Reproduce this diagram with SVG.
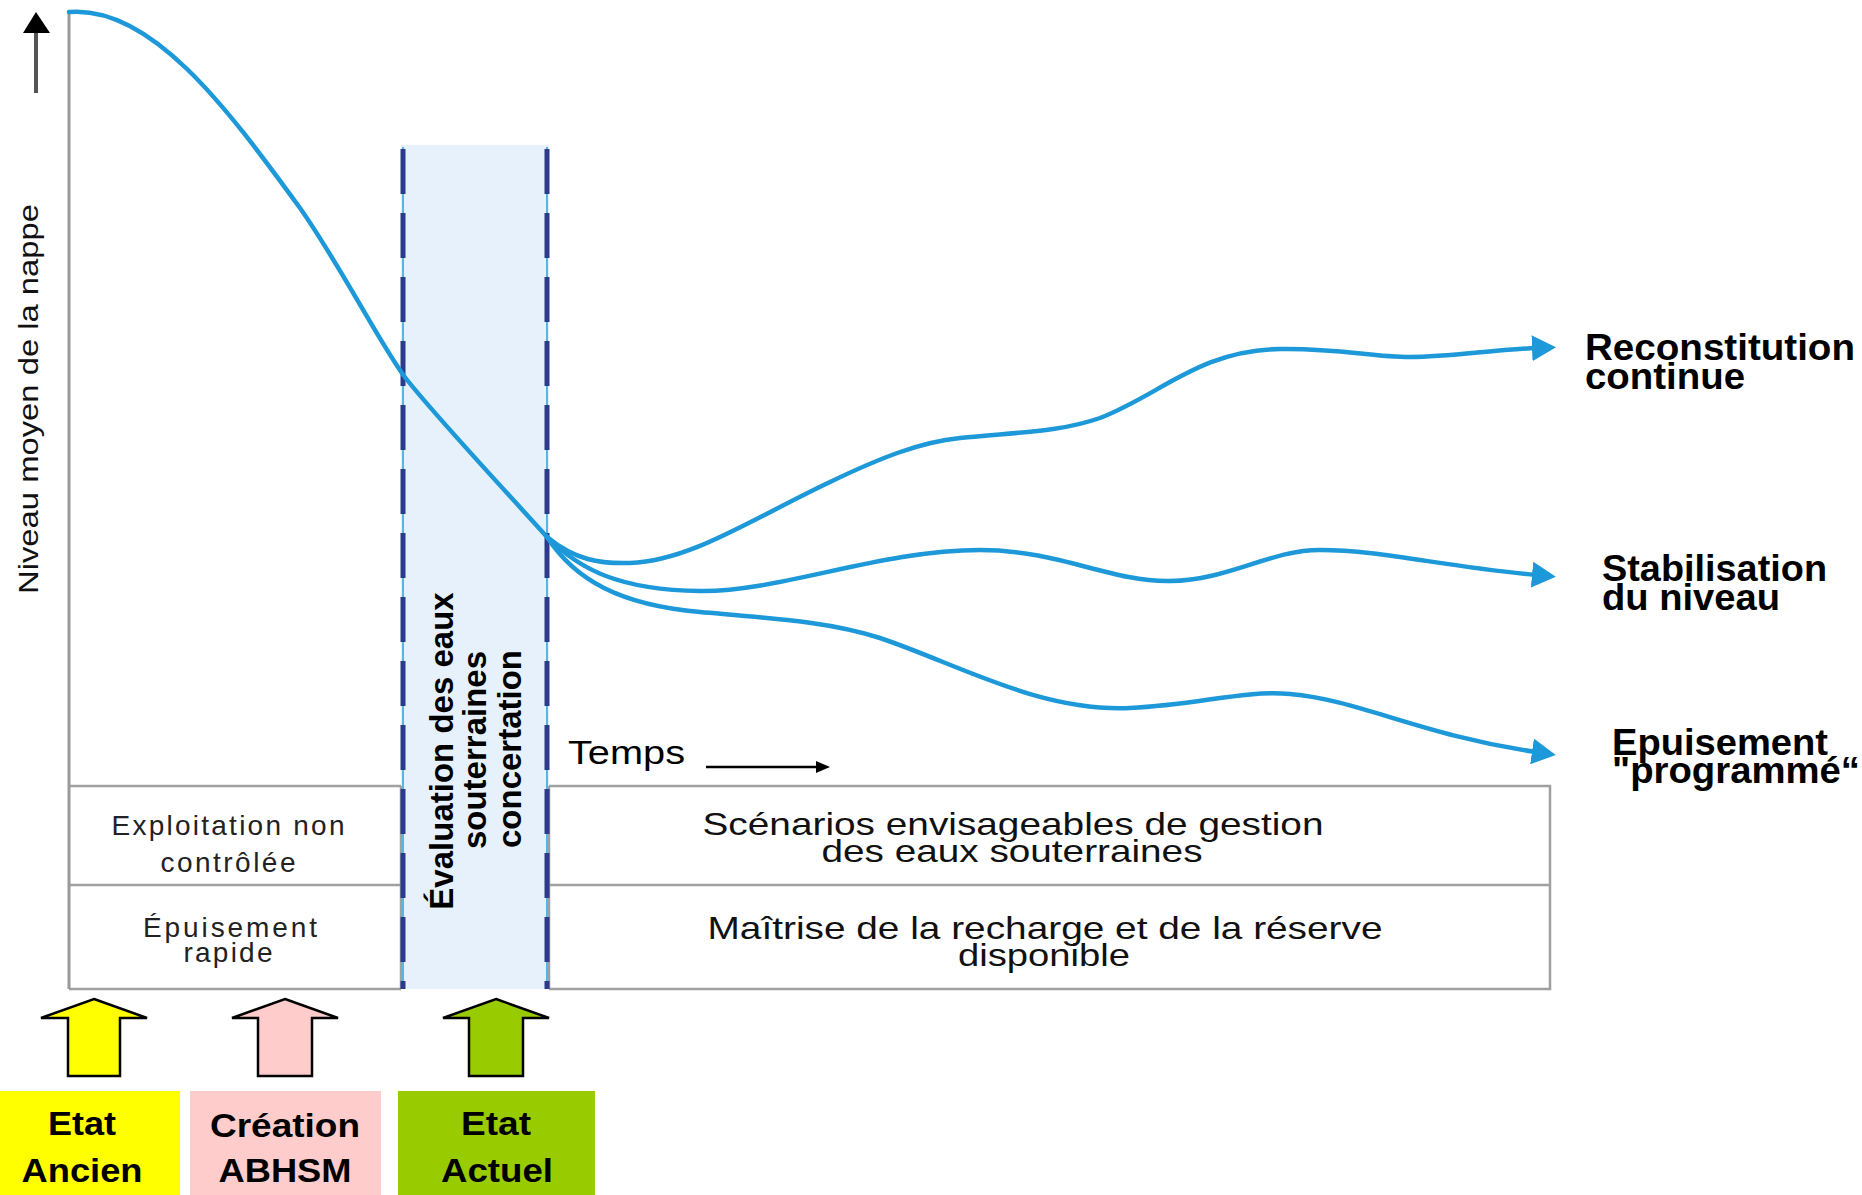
<svg xmlns="http://www.w3.org/2000/svg" width="1862" height="1195" viewBox="0 0 1862 1195">
<style>
.curve{fill:none;stroke:#1d98d8;stroke-width:4.5;stroke-linecap:round}
.grid{fill:none;stroke:#a0a0a0;stroke-width:2.5}
.tbl{font-family:"Liberation Sans",Arial,sans-serif;font-size:28px;fill:#222;text-anchor:middle}
.tbr{font-family:"Liberation Sans",Arial,sans-serif;font-size:32px;fill:#111;text-anchor:middle}
.lab{font-family:"Liberation Sans",Arial,sans-serif;font-size:37px;font-weight:bold;fill:#000}
.vt{font-family:"Liberation Sans",Arial,sans-serif;font-size:33px;font-weight:bold;fill:#000;text-anchor:middle}
.box{font-family:"Liberation Sans",Arial,sans-serif;font-size:34px;font-weight:bold;fill:#000;text-anchor:middle}
.barr{stroke:#000;stroke-width:2.5;stroke-linejoin:miter}
.dash{fill:none;stroke:#2d3a8c;stroke-width:5;stroke-dasharray:45 19}
.gap{fill:none;stroke:#5ab4e0;stroke-width:2}
</style>
<defs>
<marker id="ab" markerUnits="userSpaceOnUse" markerWidth="24" markerHeight="26" refX="4" refY="13" orient="auto">
<path d="M0,0 L24,13 L0,26 z" fill="#1d98d8"/>
</marker>
<marker id="ak" markerUnits="userSpaceOnUse" markerWidth="14" markerHeight="12" refX="2" refY="6" orient="auto">
<path d="M0,0 L14,6 L0,12 z" fill="#000"/>
</marker>
</defs>
<rect width="1862" height="1195" fill="#fff"/>

<g id="band">
<rect x="401" y="145" width="148" height="844" fill="#e7f1fb"/>
</g>

<g id="table">
<path class="grid" d="M69,786 H401 M69,885 H401 M69,989 H401 M549,786 H1550 V989 H549 M549,885 H1550 M401,786 V989 M549,786 V989"/>
<text class="tbl" x="228" y="835" textLength="233">Exploitation non</text>
<text class="tbl" x="228" y="872" textLength="135">contrôlée</text>
<text class="tbl" x="230" y="937" textLength="174">Épuisement</text>
<text class="tbl" x="228" y="962" textLength="89">rapide</text>
<text class="tbr" x="1013" y="835" textLength="621" lengthAdjust="spacingAndGlyphs">Scénarios envisageables de gestion</text>
<text class="tbr" x="1012" y="862" textLength="381" lengthAdjust="spacingAndGlyphs">des eaux souterraines</text>
<text class="tbr" x="1045" y="939" textLength="675" lengthAdjust="spacingAndGlyphs">Maîtrise de la recharge et de la réserve</text>
<text class="tbr" x="1044" y="966" textLength="172" lengthAdjust="spacingAndGlyphs">disponible</text>
</g>

<g id="band-lines">
<path class="gap" d="M403,147 V989 M547,147 V989"/>
<path class="dash" d="M403,149 V989 M547,149 V989"/>
<text class="vt" transform="translate(453,751) rotate(-90)">Évaluation des eaux</text>
<text class="vt" transform="translate(486,750) rotate(-90)">souterraines</text>
<text class="vt" transform="translate(521,749) rotate(-90)">concertation</text>
</g>

<g id="axes">
<line x1="69" y1="12" x2="69" y2="989" stroke="#9a9a9a" stroke-width="3"/>
<line x1="36" y1="93" x2="36" y2="32" stroke="#555" stroke-width="4"/>
<path d="M23,33 L36,12 L50,33 z" fill="#000"/>
<text font-family="Liberation Sans, Arial, sans-serif" font-size="27" fill="#111" text-anchor="middle" transform="translate(38,399) rotate(-90)" textLength="390" lengthAdjust="spacingAndGlyphs">Niveau moyen de la nappe</text>
<text font-family="Liberation Sans, Arial, sans-serif" font-size="33" fill="#000" x="568" y="764" textLength="117" lengthAdjust="spacingAndGlyphs">Temps</text>
<line x1="706" y1="767" x2="818" y2="767" stroke="#000" stroke-width="2.5" marker-end="url(#ak)"/>
</g>

<g id="connectors">
<path class="curve" d="M69,12 C150,5 225,105 300,208 C340,265 378,340 404,376 C430,410 500,485 547,537"/>
<path class="curve" marker-end="url(#ab)" d="M547,537 C575,560 600,564 630,563 C690,561 750,520 830,482 C880,458 920,442 960,438 C1020,432 1060,432 1100,418 C1160,395 1200,350 1280,349 C1340,348 1370,357 1410,357 C1450,357 1490,350 1536,348"/>
<path class="curve" marker-end="url(#ab)" d="M547,537 C580,570 620,590 700,591 C780,592 880,550 980,550 C1060,550 1110,582 1170,581 C1230,580 1270,550 1320,550 C1380,550 1440,566 1536,575"/>
<path class="curve" marker-end="url(#ab)" d="M547,537 C575,580 620,605 700,612 C780,619 830,622 880,638 C960,665 1040,712 1130,708 C1200,705 1240,690 1290,694 C1360,700 1420,735 1536,752"/>
</g>

<g id="label-reconstitution">
<text class="lab" x="1585" y="360" textLength="270" lengthAdjust="spacingAndGlyphs">Reconstitution</text>
<text class="lab" x="1585" y="389" textLength="160" lengthAdjust="spacingAndGlyphs">continue</text>
</g>
<g id="label-stabilisation">
<text class="lab" x="1602" y="581" textLength="225" lengthAdjust="spacingAndGlyphs">Stabilisation</text>
<text class="lab" x="1602" y="610" textLength="178" lengthAdjust="spacingAndGlyphs">du niveau</text>
</g>
<g id="label-epuisement">
<text class="lab" x="1612" y="755" textLength="216" lengthAdjust="spacingAndGlyphs">Epuisement</text>
<text class="lab" x="1612" y="783" textLength="248" lengthAdjust="spacingAndGlyphs">"programmé“</text>
</g>

<g id="etat-ancien">
<path class="barr" fill="#ffff00" d="M94,999 L147,1018 L120,1018 L120,1076 L68,1076 L68,1018 L41,1018 z"/>
<rect x="0" y="1091" width="180" height="104" fill="#ffff00"/>
<text class="box" x="82" y="1135" textLength="68" lengthAdjust="spacingAndGlyphs">Etat</text>
<text class="box" x="82" y="1182" textLength="121" lengthAdjust="spacingAndGlyphs">Ancien</text>
</g>
<g id="creation-abhsm">
<path class="barr" fill="#ffcccc" d="M285,999 L338,1018 L312,1018 L312,1076 L258,1076 L258,1018 L232,1018 z"/>
<rect x="190" y="1091" width="191" height="104" fill="#ffcccc"/>
<text class="box" x="285" y="1137" textLength="150" lengthAdjust="spacingAndGlyphs">Création</text>
<text class="box" x="285" y="1182" textLength="133" lengthAdjust="spacingAndGlyphs">ABHSM</text>
</g>
<g id="etat-actuel">
<path class="barr" fill="#99cc00" d="M496,999 L549,1018 L523,1018 L523,1076 L469,1076 L469,1018 L443,1018 z"/>
<rect x="398" y="1091" width="197" height="104" fill="#99cc00"/>
<text class="box" x="496" y="1135" textLength="70" lengthAdjust="spacingAndGlyphs">Etat</text>
<text class="box" x="497" y="1182" textLength="112" lengthAdjust="spacingAndGlyphs">Actuel</text>
</g>
</svg>
